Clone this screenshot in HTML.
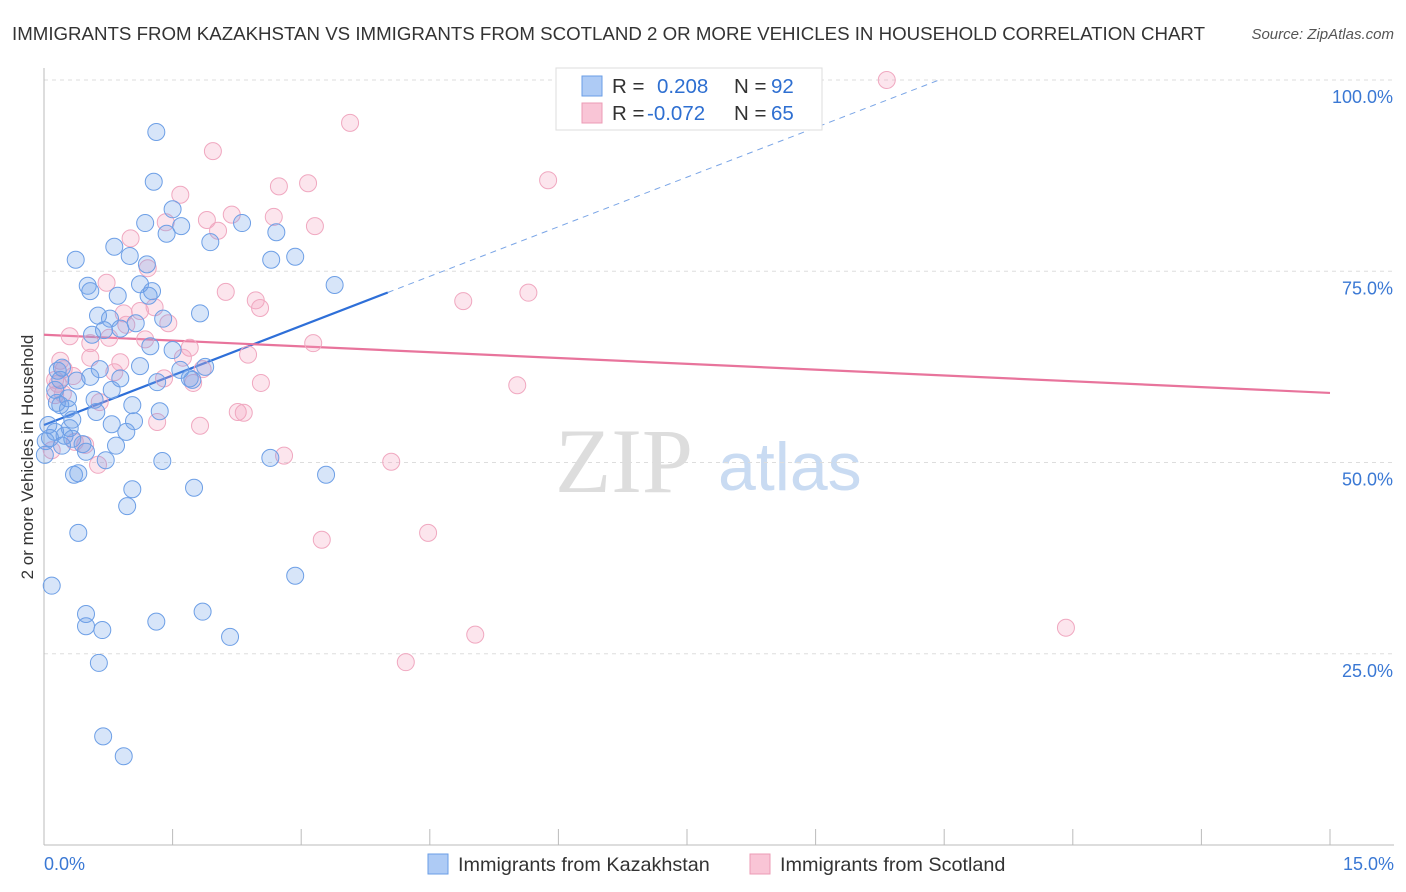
<!DOCTYPE html>
<html><head><meta charset="utf-8"><style>
body{margin:0;background:#fff;font-family:"Liberation Sans",sans-serif;}
svg{display:block}
</style></head><body>
<svg id="chart" width="1406" height="892" xmlns="http://www.w3.org/2000/svg">
<text x="12" y="40" font-size="18.7" fill="#333">IMMIGRANTS FROM KAZAKHSTAN VS IMMIGRANTS FROM SCOTLAND 2 OR MORE VEHICLES IN HOUSEHOLD CORRELATION CHART</text>
<text x="1394" y="39" font-size="15" fill="#555" font-style="italic" text-anchor="end">Source: ZipAtlas.com</text>
<text transform="translate(33,457) rotate(-90)" font-size="17" fill="#333" text-anchor="middle">2 or more Vehicles in Household</text>
<g>
<text x="555" y="492" font-size="92" font-family="Liberation Serif,serif" fill="#ddd">ZIP</text>
<text x="718" y="490" font-size="68" fill="#c9dbf2">atlas</text>
</g>
<g id="grid"></g><g id="axes"></g><g id="trend"></g><g id="pts"></g>
<g>
<rect x="556" y="68" width="266" height="62" fill="#fff" stroke="#ddd"/>
<rect x="582" y="76" width="20" height="20" fill="#aecbf5" stroke="#6a9ee6"/>
<rect x="582" y="103" width="20" height="20" fill="#f9c5d6" stroke="#ec9bb5"/>
<text x="612" y="93" font-size="20.5" fill="#333">R = </text><text x="657" y="93" font-size="20.5" fill="#2e6fd1">0.208</text>
<text x="734" y="93" font-size="20.5" fill="#333">N = </text><text x="771" y="93" font-size="20.5" fill="#2e6fd1">92</text>
<text x="612" y="120" font-size="20.5" fill="#333">R = </text><text x="647" y="120" font-size="20.5" fill="#2e6fd1">-0.072</text>
<text x="734" y="120" font-size="20.5" fill="#333">N = </text><text x="771" y="120" font-size="20.5" fill="#2e6fd1">65</text>
</g>
<g>
<rect x="428" y="854" width="20" height="20" fill="#aecbf5" stroke="#6a9ee6"/>
<text x="458" y="871" font-size="19.8" fill="#333">Immigrants from Kazakhstan</text>
<rect x="750" y="854" width="20" height="20" fill="#f9c5d6" stroke="#ec9bb5"/>
<text x="780" y="871" font-size="19.8" fill="#333">Immigrants from Scotland</text>
</g>
</svg>
<script>
const blueX=[1.31,1.28,1.50,1.18,1.60,1.43,2.31,1.94,2.71,0.82,1.00,0.37,1.20,2.65,2.93,0.51,0.54,0.86,1.12,1.26,1.22,3.39,1.82,0.63,0.77,1.07,0.70,0.89,0.56,1.39,1.24,1.50,1.12,0.65,0.21,0.16,0.89,0.54,0.38,1.32,1.73,1.59,0.13,0.79,0.15,0.19,0.61,0.28,1.03,1.35,1.05,0.79,0.30,0.13,0.96,0.24,0.07,0.02,0.33,0.21,0.45,0.84,0.49,0.72,1.38,2.64,0.40,0.35,3.29,1.03,1.75,0.97,0.40,0.09,2.93,0.49,0.49,0.68,1.31,1.85,2.17,0.64,0.69,0.93,0.01,0.05,0.19,0.33,1.70,1.88,0.28,0.59];
const blueY=[93.2,86.7,83.1,81.3,80.9,79.9,81.3,78.8,80.1,78.2,77.0,76.5,75.9,76.5,76.9,73.1,72.4,71.8,73.3,72.4,71.8,73.2,69.5,69.2,68.8,68.2,67.3,67.5,66.7,68.8,65.2,64.7,62.6,62.2,62.4,62.0,61.0,61.2,60.7,60.5,60.8,62.1,59.5,59.5,57.8,57.5,56.6,57.0,57.5,56.7,55.4,55.0,54.5,54.0,54.0,53.5,53.2,52.8,53.1,52.2,52.4,52.2,51.4,50.3,50.2,50.6,48.6,48.4,48.4,46.5,46.7,44.3,40.8,33.9,35.2,30.2,28.6,28.1,29.2,30.5,27.2,23.8,14.2,11.6,51.0,54.9,60.8,55.6,61.0,62.5,58.4,58.2];
const pinkX=[9.83,3.57,1.97,5.88,1.59,2.74,3.08,2.19,1.90,2.68,3.16,1.42,2.03,1.01,1.21,0.73,2.12,2.47,2.52,4.89,5.65,0.93,1.12,1.29,1.45,0.96,0.30,0.54,3.14,1.18,1.70,2.38,0.19,0.54,0.89,1.62,1.85,0.82,0.34,0.23,0.16,0.13,1.74,2.53,5.52,0.22,0.65,1.32,2.26,2.33,1.82,0.48,0.36,0.09,0.63,2.80,4.05,4.48,3.24,11.92,5.03,4.22,1.40,0.76,0.13];
const pinkY=[100.0,94.4,90.7,86.9,85.0,86.1,86.5,82.4,81.7,82.1,80.9,81.4,80.3,79.3,75.4,73.5,72.3,71.2,70.2,71.1,72.2,69.5,69.8,70.3,68.2,68.0,66.5,65.6,65.6,66.1,65.0,64.1,63.3,63.7,63.1,63.7,62.2,61.8,61.3,62.2,60.3,60.8,60.4,60.4,60.1,59.0,57.9,55.3,56.6,56.5,54.8,52.3,52.7,51.6,49.7,50.9,50.1,40.8,39.9,28.4,27.5,23.9,61.0,66.3,58.8];
const blueTrend=[54.9,4.32]; // intercept, slope
const pinkTrend=[66.7,-0.507];
const yTicks=[25,50,75,100];
const xTickCount=[0,1.5,3,4.5,6,7.5,9,10.5,12,13.5,15];
const NS='http://www.w3.org/2000/svg';
const sx=v=>44+v/15*1286, sy=v=>845-v/100*765;
function mk(p,t,a){const e=document.createElementNS(NS,t);for(const k in a)e.setAttribute(k,a[k]);p.appendChild(e);return e;}
const grid=document.getElementById('grid'),axes=document.getElementById('axes');
yTicks.forEach(v=>{
 const l=mk(grid,'line',{x1:44,x2:1394,y1:sy(v),y2:sy(v),stroke:'#ddd','stroke-dasharray':'4,4'});
 
 
 const t=mk(grid,'text',{x:1393,y:sy(v)+23,'font-size':18,fill:'#3a78d4','text-anchor':'end'});
 t.textContent=v.toFixed(1)+'%';
 
 
});
mk(axes,'line',{x1:44,x2:44,y1:68,y2:845,stroke:'#bbb'});
mk(axes,'line',{x1:44,x2:1394,y1:845,y2:845,stroke:'#bbb'});
xTickCount.forEach(v=>{const l=mk(axes,'line',{x1:sx(v),x2:sx(v),y1:829,y2:845,stroke:'#bbb'});
 
 });
let t0=mk(axes,'text',{x:44,y:870,'font-size':18,fill:'#3a78d4'});t0.textContent='0.0%';


let t1=mk(axes,'text',{x:1394,y:870,'font-size':18,fill:'#3a78d4','text-anchor':'end'});t1.textContent='15.0%';


const pts=document.getElementById('pts');
function draw(xs,ys,fill,stroke,name){xs.forEach((x,i)=>{const c=mk(pts,'circle',{cx:sx(x),cy:sy(ys[i]),r:8.5,fill:fill,stroke:stroke,'stroke-width':1});
 
 });}
draw(pinkX,pinkY,'rgba(244,160,190,0.28)','#f0a8c0','point-scotland');
draw(blueX,blueY,'rgba(110,160,235,0.28)','#6d9fe6','point-kazakhstan');
const tr=document.getElementById('trend');
const bEnd=4.01, bTop=(100-blueTrend[0])/blueTrend[1];
let b1=mk(tr,'line',{x1:sx(0),y1:sy(blueTrend[0]),x2:sx(bEnd),y2:sy(blueTrend[0]+blueTrend[1]*bEnd),stroke:'#2e6fd8','stroke-width':2.2});


let b2=mk(tr,'line',{x1:sx(bEnd),y1:sy(blueTrend[0]+blueTrend[1]*bEnd),x2:sx(bTop),y2:sy(100),stroke:'#7aa5e6','stroke-width':1,'stroke-dasharray':'6,5'});


let p1=mk(tr,'line',{x1:sx(0),y1:sy(pinkTrend[0]),x2:sx(15),y2:sy(pinkTrend[0]+pinkTrend[1]*15),stroke:'#e8749c','stroke-width':2.2});


</script>
</body></html>
